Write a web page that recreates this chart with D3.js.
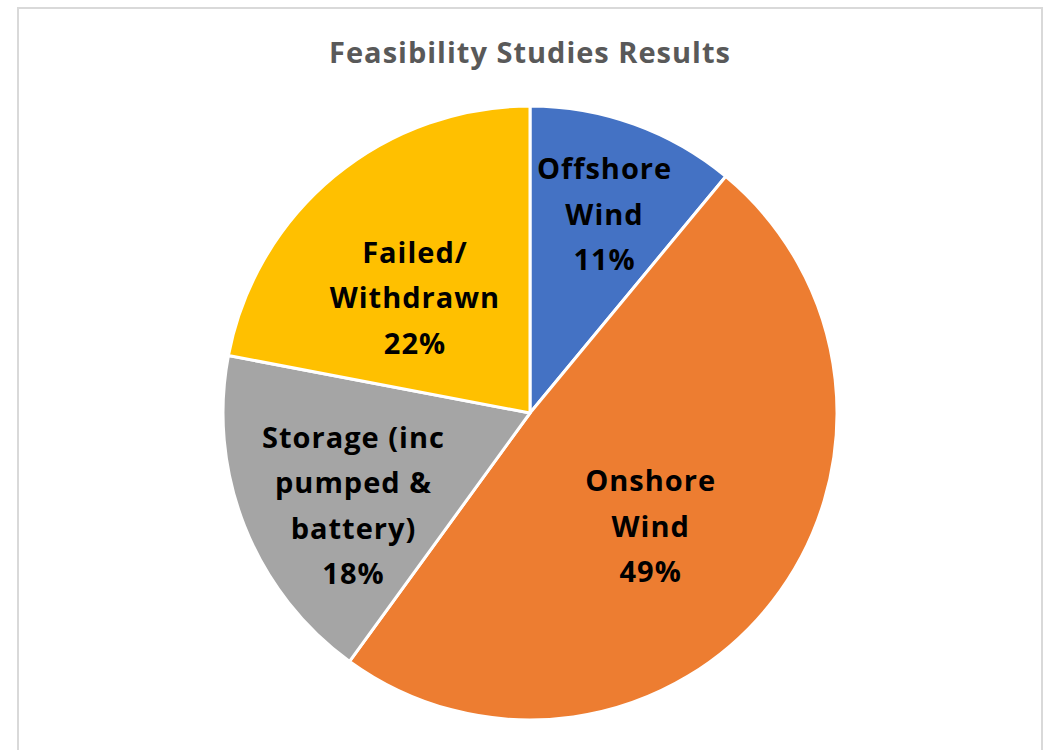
<!DOCTYPE html>
<html>
<head>
<meta charset="utf-8">
<script src="https://cdn.jsdelivr.net/npm/d3@7"></script>
<style>
  body { margin: 0; background: #fff; }
  text { font-family: "Open Sans", Lato, sans-serif; font-weight: bold; letter-spacing: 1px; }
</style>
</head>
<body>
<div id="wrapper"></div>
<script>
// data
const categories = ["Offshore Wind", "Onshore Wind", "Storage (inc pumped & battery)", "Failed/ Withdrawn"];
const values = [11, 49, 18, 22];
const labelLines = [
  ["Offshore", "Wind"],
  ["Onshore", "Wind"],
  ["Storage (inc", "pumped &", "battery)"],
  ["Failed/", "Withdrawn"],
];
const colors = ["#4472C4", "#ED7D31", "#A5A5A5", "#FFC000"];
// where excel's "best fit" put each label: fraction of radius, and degrees off the slice middle
const labelRadius = [0.69, 0.54, 0.65, 0.53];
const labelAngleShift = [0.8, 5.5, -6.2, -5.4];

function drawPie() {
  const dimensions = {
    width: 1053,
    height: 750,
    cx: 530,
    cy: 413,
    radius: 307,
  };

  const svg = d3.select("#wrapper")
    .append("svg")
      .attr("width", dimensions.width)
      .attr("height", dimensions.height);

  // chart frame
  svg.append("rect")
      .attr("x", 18)
      .attr("y", 8)
      .attr("width", 1024)
      .attr("height", 760)
      .attr("fill", "#fff")
      .attr("stroke", "#d9d9d9")
      .attr("stroke-width", 2);

  svg.append("text")
      .attr("x", dimensions.cx)
      .attr("y", 63)
      .attr("text-anchor", "middle")
      .attr("fill", "#595959")
      .style("font-size", "29px")
      .text("Feasibility Studies Results");

  const pie = d3.pie()
      .sort(null)
      .value(d => d.value);

  const arcs = pie(categories.map((c, i) => ({ name: c, value: values[i], i })));

  const arc = d3.arc()
      .innerRadius(0)
      .outerRadius(dimensions.radius);

  const g = svg.append("g")
      .attr("transform", `translate(${dimensions.cx}, ${dimensions.cy})`);

  g.selectAll("path")
    .data(arcs)
    .join("path")
      .attr("d", arc)
      .attr("fill", d => colors[d.data.i])
      .attr("stroke", "#fff")
      .attr("stroke-width", 3)
      .attr("stroke-linejoin", "round");

  const lineHeight = 45.5;

  const labels = g.selectAll("g.label")
    .data(arcs)
    .join("g")
      .attr("class", "label")
      .attr("transform", d => {
        const r = dimensions.radius * labelRadius[d.data.i];
        const shift = labelAngleShift[d.data.i] * Math.PI / 180;
        const shifted = { startAngle: d.startAngle + shift, endAngle: d.endAngle + shift };
        const c = d3.arc().innerRadius(r).outerRadius(r).centroid(shifted);
        return `translate(${c})`;
      });

  labels.each(function(d) {
    const lines = [...labelLines[d.data.i], d3.format(".0%")(d.value / 100)];
    const start = -(lines.length - 1) / 2 * lineHeight;
    d3.select(this).selectAll("text")
      .data(lines)
      .join("text")
        .attr("y", (_l, j) => start + j * lineHeight)
        .attr("dy", "0.35em")
        .attr("text-anchor", "middle")
        .attr("fill", "#000")
        .style("font-size", "29px")
        .text(l => l);
  });
}
drawPie();
</script>
</body>
</html>
